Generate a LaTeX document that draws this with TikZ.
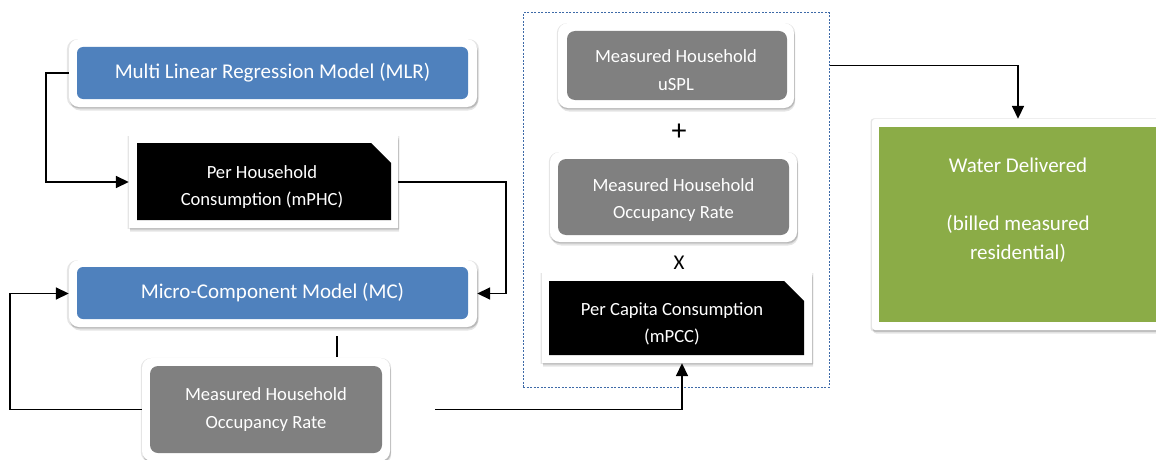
\documentclass[tikz,border=0pt]{standalone}
\usepackage{fontspec}
\setmainfont{Carlito}
\usetikzlibrary{shapes.misc,shadows,arrows.meta,calc}
\definecolor{mblue}{HTML}{4F81BD}
\definecolor{mgray}{HTML}{808080}
\definecolor{mgreen}{HTML}{8BAC47}
\definecolor{dashc}{HTML}{3E6AA8}
\begin{document}
\begin{tikzpicture}[x=1pt,y=-1pt,
  softshadow/.style={
    drop shadow={shadow xshift=0pt, shadow yshift=-0.5pt, shadow scale=1.01, fill=black, opacity=0.10},
    drop shadow={shadow xshift=0.8pt, shadow yshift=-2pt, fill=black, opacity=0.10},
    drop shadow={shadow xshift=1.2pt, shadow yshift=-3.5pt, fill=black, opacity=0.10}},
  frame/.style={fill=white, rounded corners=10pt, inner sep=0pt, softshadow},
  snipframe/.style={fill=white, chamfered rectangle, chamfered rectangle corners=north east,
    chamfered rectangle xsep=10pt, chamfered rectangle ysep=10pt, inner sep=0pt, softshadow},
  sqframe/.style={fill=white, rounded corners=3pt, inner sep=0pt, softshadow},
  bigtxt/.style={text=white, align=center, inner sep=0pt, font=\fontsize{21}{29}\selectfont},
  smalltxt/.style={text=white, align=center, inner sep=0pt, font=\fontsize{18.6}{27.5}\selectfont},
  bluebox/.style={bigtxt, fill=mblue, rounded corners=6pt},
  graybox/.style={smalltxt, fill=mgray, rounded corners=8pt},
  blackbox/.style={smalltxt, fill=black, chamfered rectangle, chamfered rectangle corners=north east,
    chamfered rectangle xsep=10pt, chamfered rectangle ysep=10pt},
  greenbox/.style={fill=mgreen, inner sep=0pt},
  conn/.style={line width=1.7pt, black},
  arr/.style={conn, -{Triangle[length=13pt,width=12pt]}},
  symb/.style={inner sep=0pt, font=\fontsize{30}{30}\selectfont}
]
\useasboundingbox (0,0) rectangle (1156,460);

% dashed group box
\node[draw=dashc, dash pattern=on 2pt off 1.5pt, line width=1pt, minimum width=306, minimum height=374, inner sep=0pt] (grp) at (676,200) {};

% left column
\node[frame, minimum width=408, minimum height=68] (mlrF) at (273,73) {};
\node[bluebox, minimum width=391, minimum height=52] (mlr) at (272.5,73) {Multi Linear Regression Model (MLR)};

\node[snipframe, minimum width=269, minimum height=92] (mphcF) at (263.5,182) {};
\node[blackbox, minimum width=254, minimum height=77] (mphc) at (264,181.5) {\phantom{Per Household}\\\phantom{Consumption (mPHC)}};
\node[smalltxt] (mphcT) at (262,187) {Per Household\\Consumption (mPHC)};

\node[frame, minimum width=408, minimum height=67] (mcF) at (273,293.5) {};
\node[bluebox, minimum width=391, minimum height=52] (mc) at (272.5,293) {Micro-Component Model (MC)};

\node[frame, minimum width=248, minimum height=103] (occ1F) at (266,409.5) {};
\node[graybox, minimum width=232, minimum height=87] (occ1) at (266,409.5) {Measured Household\\Occupancy Rate};

% middle column
\node[frame, minimum width=236, minimum height=85] (usplF) at (676,65.5) {};
\node[graybox, minimum width=220, minimum height=69] (uspl) at (677,65.5) {};
\node[smalltxt] (usplT) at (676,70) {Measured Household\\uSPL};

\node[symb] (plus) at (679,132) {+};

\node[frame, minimum width=247, minimum height=90] (occ2F) at (673.5,197) {};
\node[graybox, minimum width=231, minimum height=76] (occ2) at (673.5,197) {};
\node[smalltxt] (occ2T) at (673.5,200) {Measured Household\\Occupancy Rate};

\node[symb, font=\fontsize{21}{21}\selectfont] (times) at (679,263) {X};

\node[snipframe, minimum width=270, minimum height=90] (mpccF) at (677,318) {};
\node[blackbox, minimum width=255, minimum height=74] (mpcc) at (676.5,318) {\phantom{Per Capita Consumption}\\\phantom{(mPCC)}};
\node[smalltxt] (mpccT) at (672,324) {Per Capita Consumption\\(mPCC)};

% right
\node[sqframe, minimum width=292, minimum height=211] (wdF) at (1018,224.5) {};
\node[greenbox, minimum width=278, minimum height=195] (wd) at (1018,224.5) {};
\node[bigtxt] (wdT) at (1018,210) {Water Delivered\\[0pt]\\(billed measured\\residential)};

% connectors
\draw[arr] (mlrF.west) -- ++(-23,0) |- (mphcF.west);
\draw[arr] (mphcF.east) -- ++(108,0) |- (mcF.east);
\coordinate (tickA) at ($(mcF.south)+(64,9)$);
\coordinate (tickB) at ($(mcF.south)+(64,30)$);
\draw[conn, line width=1.4pt] (tickA) -- (tickB);
\draw[arr] (occ1F.west) -- ++(-132,0) |- (mcF.west);
\coordinate (gstart) at ($(occ1F.east)+(45,0)$);
\draw[arr] (gstart) -| ($(mpccF.south)+(5,0)$);
\draw[arr] (grp.east |- usplF.east) -| (wdF.north);
\end{tikzpicture}
\end{document}
